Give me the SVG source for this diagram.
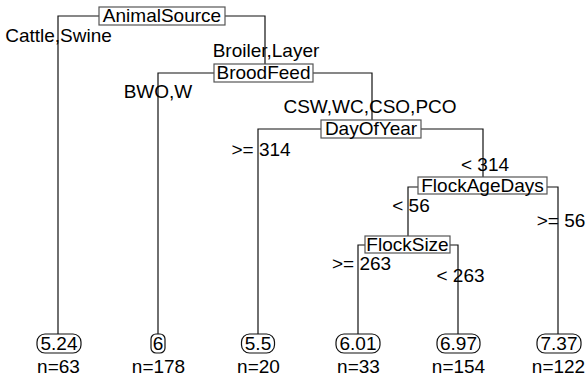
<svg xmlns="http://www.w3.org/2000/svg" width="586" height="381" viewBox="0 0 586 381">
<style>
text{font-family:"Liberation Sans",Arial,sans-serif;font-size:19px;fill:#000;text-anchor:middle}
.edge{fill:none;stroke:#111;stroke-width:1.2}
.split{fill:#fff;stroke:#555;stroke-width:1.2}
.leaf{fill:#fff;stroke:#111;stroke-width:1.2}
</style>
<rect width="586" height="381" fill="#fff"/>
<g id="connectors">
<path class="edge" d="M58,334 V16 H265 V64"/>
<path class="edge" d="M158,334 V73 H372 V120"/>
<path class="edge" d="M258,334 V129 H483 V177"/>
<path class="edge" d="M408,236 V187 H558 V334"/>
<path class="edge" d="M358,334 V245 H458 V334"/>
<text x="58.5" y="42">Cattle,Swine</text>
<text x="266" y="57">Broiler,Layer</text>
<text x="158" y="98">BWO,W</text>
<text x="370" y="113">CSW,WC,CSO,PCO</text>
<text x="261" y="156">&gt;= 314</text>
<text x="485" y="171">&lt; 314</text>
<text x="411" y="212">&lt; 56</text>
<text x="561" y="227">&gt;= 56</text>
<text x="361.5" y="270">&gt;= 263</text>
<text x="460.5" y="282">&lt; 263</text>
</g>
<g id="AnimalSource">
<rect class="split" x="99" y="7" width="126" height="18"/>
<text x="162" y="22">AnimalSource</text>
</g>
<g id="BroodFeed">
<rect class="split" x="214" y="64" width="99" height="18"/>
<text x="263.5" y="79">BroodFeed</text>
</g>
<g id="DayOfYear">
<rect class="split" x="321" y="120" width="100" height="18"/>
<text x="371" y="135">DayOfYear</text>
</g>
<g id="FlockAgeDays">
<rect class="split" x="418" y="177" width="129" height="17"/>
<text x="482.5" y="191.5">FlockAgeDays</text>
</g>
<g id="FlockSize">
<rect class="split" x="365" y="236" width="85" height="17"/>
<text x="407.5" y="250.5">FlockSize</text>
</g>
<g id="leaf1">
<rect class="leaf" x="37" y="334" width="44" height="19" rx="8"/>
<text x="59" y="350">5.24</text>
<text x="58.5" y="373">n=63</text>
</g>
<g id="leaf2">
<rect class="leaf" x="151" y="334" width="14" height="19" rx="5"/>
<text x="158" y="350">6</text>
<text x="158.5" y="373">n=178</text>
</g>
<g id="leaf3">
<rect class="leaf" x="241.5" y="334" width="33" height="19" rx="8"/>
<text x="258" y="350">5.5</text>
<text x="258.5" y="373">n=20</text>
</g>
<g id="leaf4">
<rect class="leaf" x="336" y="334" width="44" height="19" rx="8"/>
<text x="358" y="350">6.01</text>
<text x="358.5" y="373">n=33</text>
</g>
<g id="leaf5">
<rect class="leaf" x="437" y="334" width="43" height="19" rx="8"/>
<text x="458.5" y="350">6.97</text>
<text x="458.5" y="373">n=154</text>
</g>
<g id="leaf6">
<rect class="leaf" x="537" y="334" width="44" height="19" rx="8"/>
<text x="559" y="350">7.37</text>
<text x="558.5" y="373">n=122</text>
</g>
</svg>
